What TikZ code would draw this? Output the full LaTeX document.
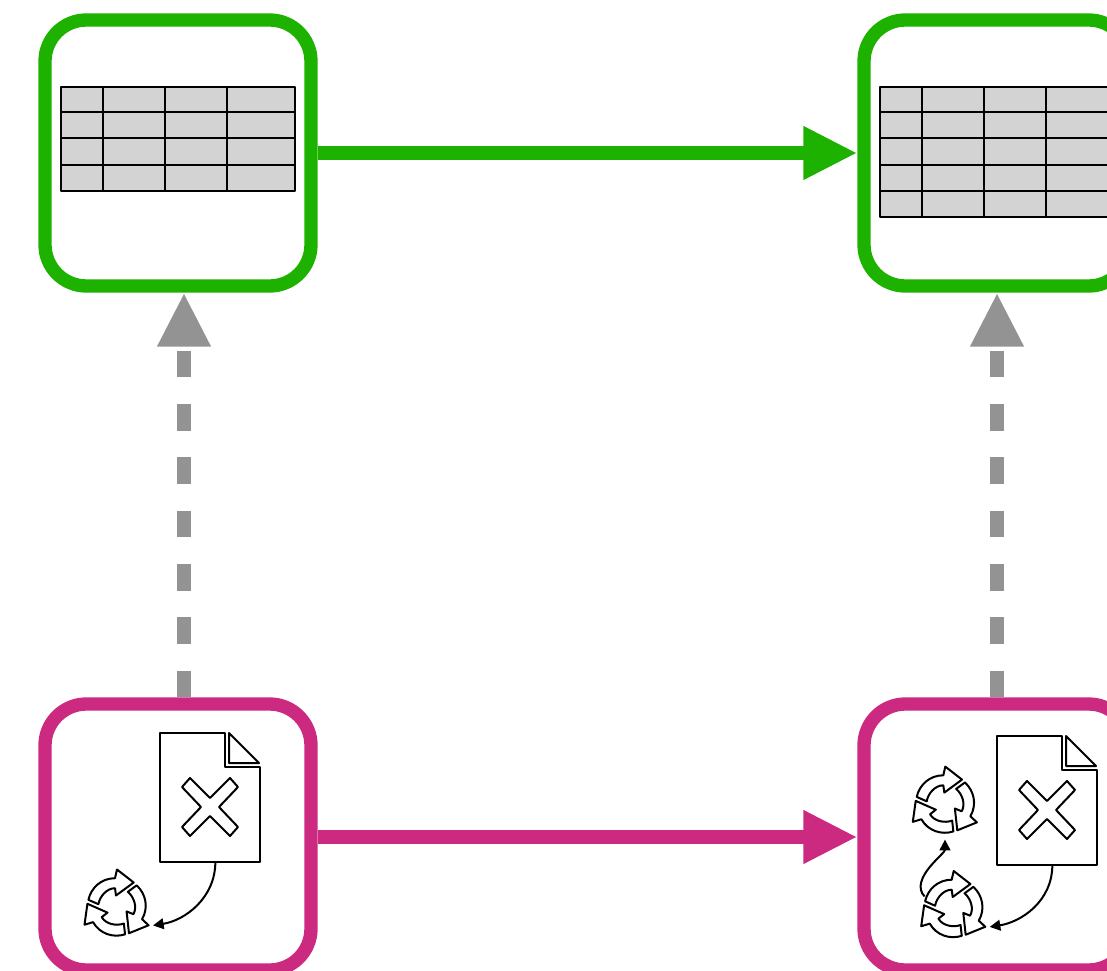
\documentclass[tikz,border=0pt]{standalone}
\usetikzlibrary{arrows.meta}

\definecolor{mgreen}{RGB}{30,178,0}
\definecolor{mpink}{RGB}{204,41,128}
\definecolor{mgray}{RGB}{147,147,147}
\definecolor{mcell}{RGB}{211,211,211}
\newcommand*{\colTab}{mgreen}
\newcommand*{\colFile}{mpink}
\newcommand*{\colLink}{mgray}
\newcommand*{\xLeft}{178}
\newcommand*{\xRight}{997}
\newcommand*{\yTop}{153}
\newcommand*{\yBot}{837}

% table with its upper left corner at #1,#2 and height #3
\newcommand*{\drawTable}[3]{
    \begin{scope}[shift={(#1,#2)}]
        \fill [mcell] (0,0) rectangle (234,#3);
        \foreach \r in {25,51,78,104,130} {
            \ifdim\r pt<#3 pt
                \draw [icon] (0,\r) -- (234,\r);
            \fi
        }
        \foreach \c in {42,104,166} {
            \draw [icon] (\c,0) -- (\c,#3);
        }
        \draw [icon] (0,0) rectangle (234,#3);
    \end{scope}
}

% file with a cross, #1 is the name of its node
\newcommand*{\drawFile}[3]{
    \begin{scope}[shift={(#2,#3)}]
        \node (#1) [inner sep=0, outer sep=0, minimum width=75pt, minimum height=96.75pt] at (50,64.5) {};
        \draw [icon, fill=white] (0,0) -- (65,0) -- (65,34) -- (100,34) -- (100,129) -- (0,129) -- cycle;
        \draw [icon, fill=white] (69,0) -- (69,30) -- (99,30) -- cycle;
        \draw [icon, shift={(50,74)}] (0,-9) -- (20,-29) -- (28,-20) -- (9,0) -- (28,20) -- (20,29) -- (0,9)
            -- (-20,29) -- (-28,20) -- (-9,0) -- (-28,-20) -- (-20,-29) -- cycle;
    \end{scope}
}

% three arrows in a ring, #1 is the name of its node
\newcommand*{\drawCycle}[3]{
    \node (#1) [circle, inner sep=0, outer sep=0, minimum size=60pt] at (#2,#3) {};
    \foreach \a in {0,-120,-240} {
        \draw [icon, shift={(#2,#3)}, rotate=\a] (-28.3,-6.7) .. controls (-25.5,-19) and (-15.2,-28.3) .. (-1.7,-28.3)
            -- (0.3,-37) -- (17,-24) -- (-0.7,-11) -- (-1.7,-18.3)
            .. controls (-10,-18.3) and (-17,-10) .. (-18.3,-2.3) -- cycle;
    }
}

\begin{document}
\begin{tikzpicture}[x=0.75pt, y=-0.75pt,
    box/.style={draw, rounded corners=31pt, line width=10pt, minimum size=199.5pt, inner sep=0, fill=white},
    flow/.style={line width=10pt, -{Triangle[length=40.5pt, width=37.5pt]}},
    link/.style={line width=10pt, \colLink, dash pattern=on 20pt off 20pt, -{Triangle[length=40.5pt, width=37.5pt]}},
    icon/.style={draw=black, line width=1.5pt, line join=round},
    small/.style={black, line width=1.5pt, -{Triangle[length=8pt, width=8pt]}}]

    \clip (0,0) rectangle (1107,971);

    \node (tabA) [box, draw=\colTab] at (\xLeft,\yTop) {};
    \node (tabB) [box, draw=\colTab] at (\xRight,\yTop) {};
    \node (fileA) [box, draw=\colFile] at (\xLeft,\yBot) {};
    \node (fileB) [box, draw=\colFile] at (\xRight,\yBot) {};

    \draw [flow, \colTab] (tabA) -- (tabB);
    \draw [flow, \colFile] (fileA) -- (fileB);
    \draw [link] ([xshift=4.5pt]fileA.north) -- ([xshift=4.5pt]tabA.south);
    \draw [link] (fileB.north) -- (tabB.south);

    \drawTable{61}{87}{104}
    \drawTable{880}{87}{130}

    \drawFile{docA}{160}{733}
    \drawFile{docB}{997}{736}

    \drawCycle{cycA}{116.7}{906.5}
    \drawCycle{cycB}{945}{803.6}
    \drawCycle{cycC}{953.4}{908}

    \coordinate (bendC) at (930,866.7);

    \draw [small] ([xshift=4pt]docA.south) .. controls +(0,36) and +(32,-5) .. ([yshift=-1.5pt]cycA.-25);
    \draw [small] ([xshift=4pt]docB.south) .. controls +(0,36) and +(32,-5) .. ([yshift=-1.5pt]cycC.-25);
    \draw [small] ([xshift=6pt,yshift=-3pt]cycC.157) to [out=135, in=-130] (bendC) to [out=50, in=-90] ([yshift=3pt]cycB.south);

\end{tikzpicture}
\end{document}
